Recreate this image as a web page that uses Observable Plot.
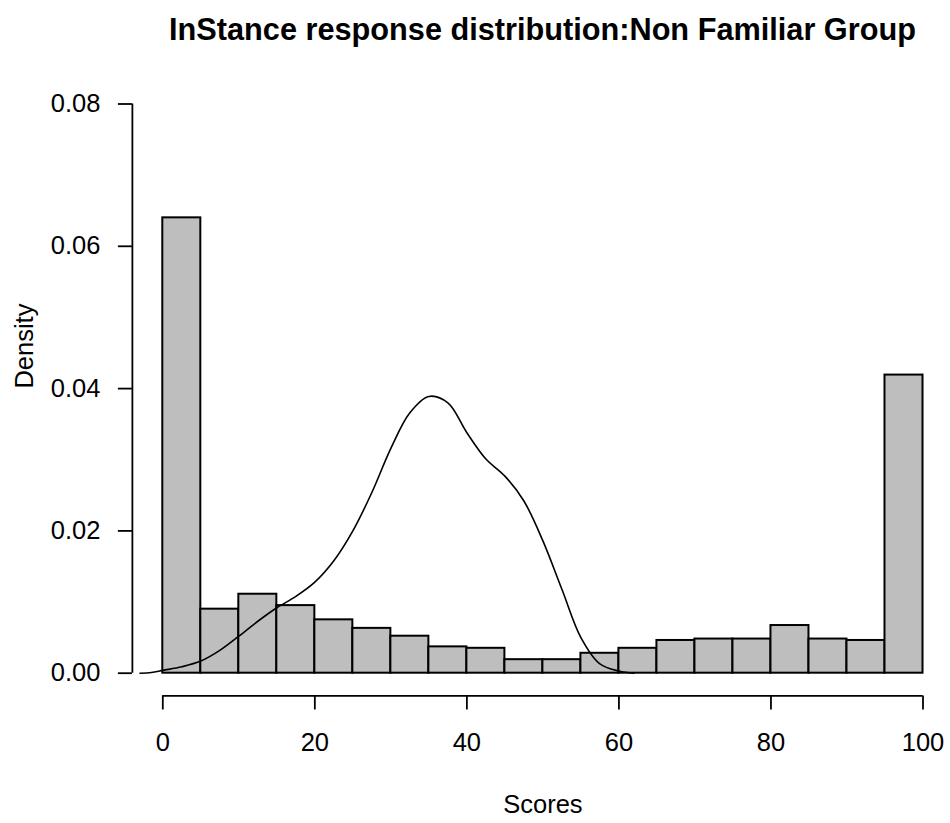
<!DOCTYPE html>
<html>
<head>
<meta charset="utf-8">
<script src="https://cdn.jsdelivr.net/npm/d3@7"></script>
<script src="https://cdn.jsdelivr.net/npm/@observablehq/plot@0.6"></script>
<style>
  html, body { margin: 0; padding: 0; background: #fff; }
  #wrap { position: relative; width: 950px; height: 823px; }
  #title { position: absolute; left: 0; top: 0; width: 950px; height: 60px; }
  #title div { position: absolute; left: 162px; width: 761px; top: 12px; text-align: center;
    font: bold 30.7px "Liberation Sans", Arial, sans-serif; color: #000; white-space: nowrap; }
  #chart { position: absolute; left: 0; top: 0; }
</style>
</head>
<body>
<div id="wrap">
  <div id="chart"></div>
  <div id="title"><div>InStance response distribution:Non Familiar Group</div></div>
</div>
<script>
// Histogram bins (width 5) and densities
const binStarts = [0,5,10,15,20,25,30,35,40,45,50,55,60,65,70,75,80,85,90,95];
const binWidth = 5;
const densities = [0.0640,0.0090,0.0111,0.0095,0.0075,0.0063,0.0052,0.0037,0.0035,0.0019,0.0019,0.0028,0.0035,0.0046,0.0048,0.0048,0.0067,0.0048,0.0046,0.0419];

// Kernel density curve points
const curveX = [-3,-1.5,0,2.5,5,7.5,10,12.5,15,17.5,20,22.5,25,27.5,30,32.5,35,37.5,40,42.5,45,47.5,50,52.5,55,57.5,60,62];
const curveY = [0,0.0001,0.0004,0.0009,0.0017,0.0032,0.0052,0.0073,0.0092,0.0108,0.0128,0.0158,0.0200,0.0254,0.0316,0.0366,0.0389,0.0380,0.0338,0.0301,0.0277,0.0242,0.0186,0.0118,0.0050,0.0013,0.0003,0];

const xTicks = [0,20,40,60,80,100];
const yTicks = [0,0.02,0.04,0.06,0.08];

const bins = binStarts.map((s, i) => ({x1: s, x2: s + binWidth, d: densities[i]}));
const curve = curveX.map((x, i) => ({x, y: curveY[i]}));

// R-style detached axes at 4% outside the data range
const xPad = 0.04 * 100, yPad = 0.04 * 0.08;

const font = '"Liberation Sans", Arial, sans-serif';

const chart = Plot.plot({
  width: 950,
  height: 823,
  marginLeft: 162.3,
  marginRight: 27.5,
  marginTop: 103.5,
  marginBottom: 150.3,
  style: {fontFamily: font, fontSize: "25.5px", background: "#fff", color: "#000"},
  x: {domain: [0, 100]},
  y: {domain: [0, 0.08]},
  marks: [
    Plot.rectY(bins, {x1: "x1", x2: "x2", y: "d", fill: "#bebebe", stroke: "#000", strokeWidth: 2, inset: 0}),
    Plot.line(curve, {x: "x", y: "y", stroke: "#000", strokeWidth: 1.6, curve: "catmull-rom"}),
    // y axis
    Plot.ruleX([-xPad], {y1: 0, y2: 0.08, stroke: "#000", strokeWidth: 1.8}),
    Plot.axisY({ticks: yTicks, tickFormat: d3.format(".2f"), dx: -xPad * 7.602, tickSize: 14, tickPadding: 18, label: null, fontSize: 25.5, strokeWidth: 1.8}),
    // x axis
    Plot.ruleY([-yPad], {x1: 0, x2: 100, stroke: "#000", strokeWidth: 1.8}),
    Plot.axisX({ticks: xTicks, tickFormat: d3.format("d"), dy: yPad * 7110, tickSize: 14, tickPadding: 23, label: null, fontSize: 25.5, strokeWidth: 1.8}),
    // axis titles
    Plot.text(["Scores"], {frameAnchor: "bottom", dy: 132, lineAnchor: "middle", fontSize: 25.5}),
    Plot.text(["Density"], {frameAnchor: "left", dx: -138, rotate: -90, lineAnchor: "middle", fontSize: 25.5})
  ]
});
document.getElementById("chart").appendChild(chart);
</script>
</body>
</html>
